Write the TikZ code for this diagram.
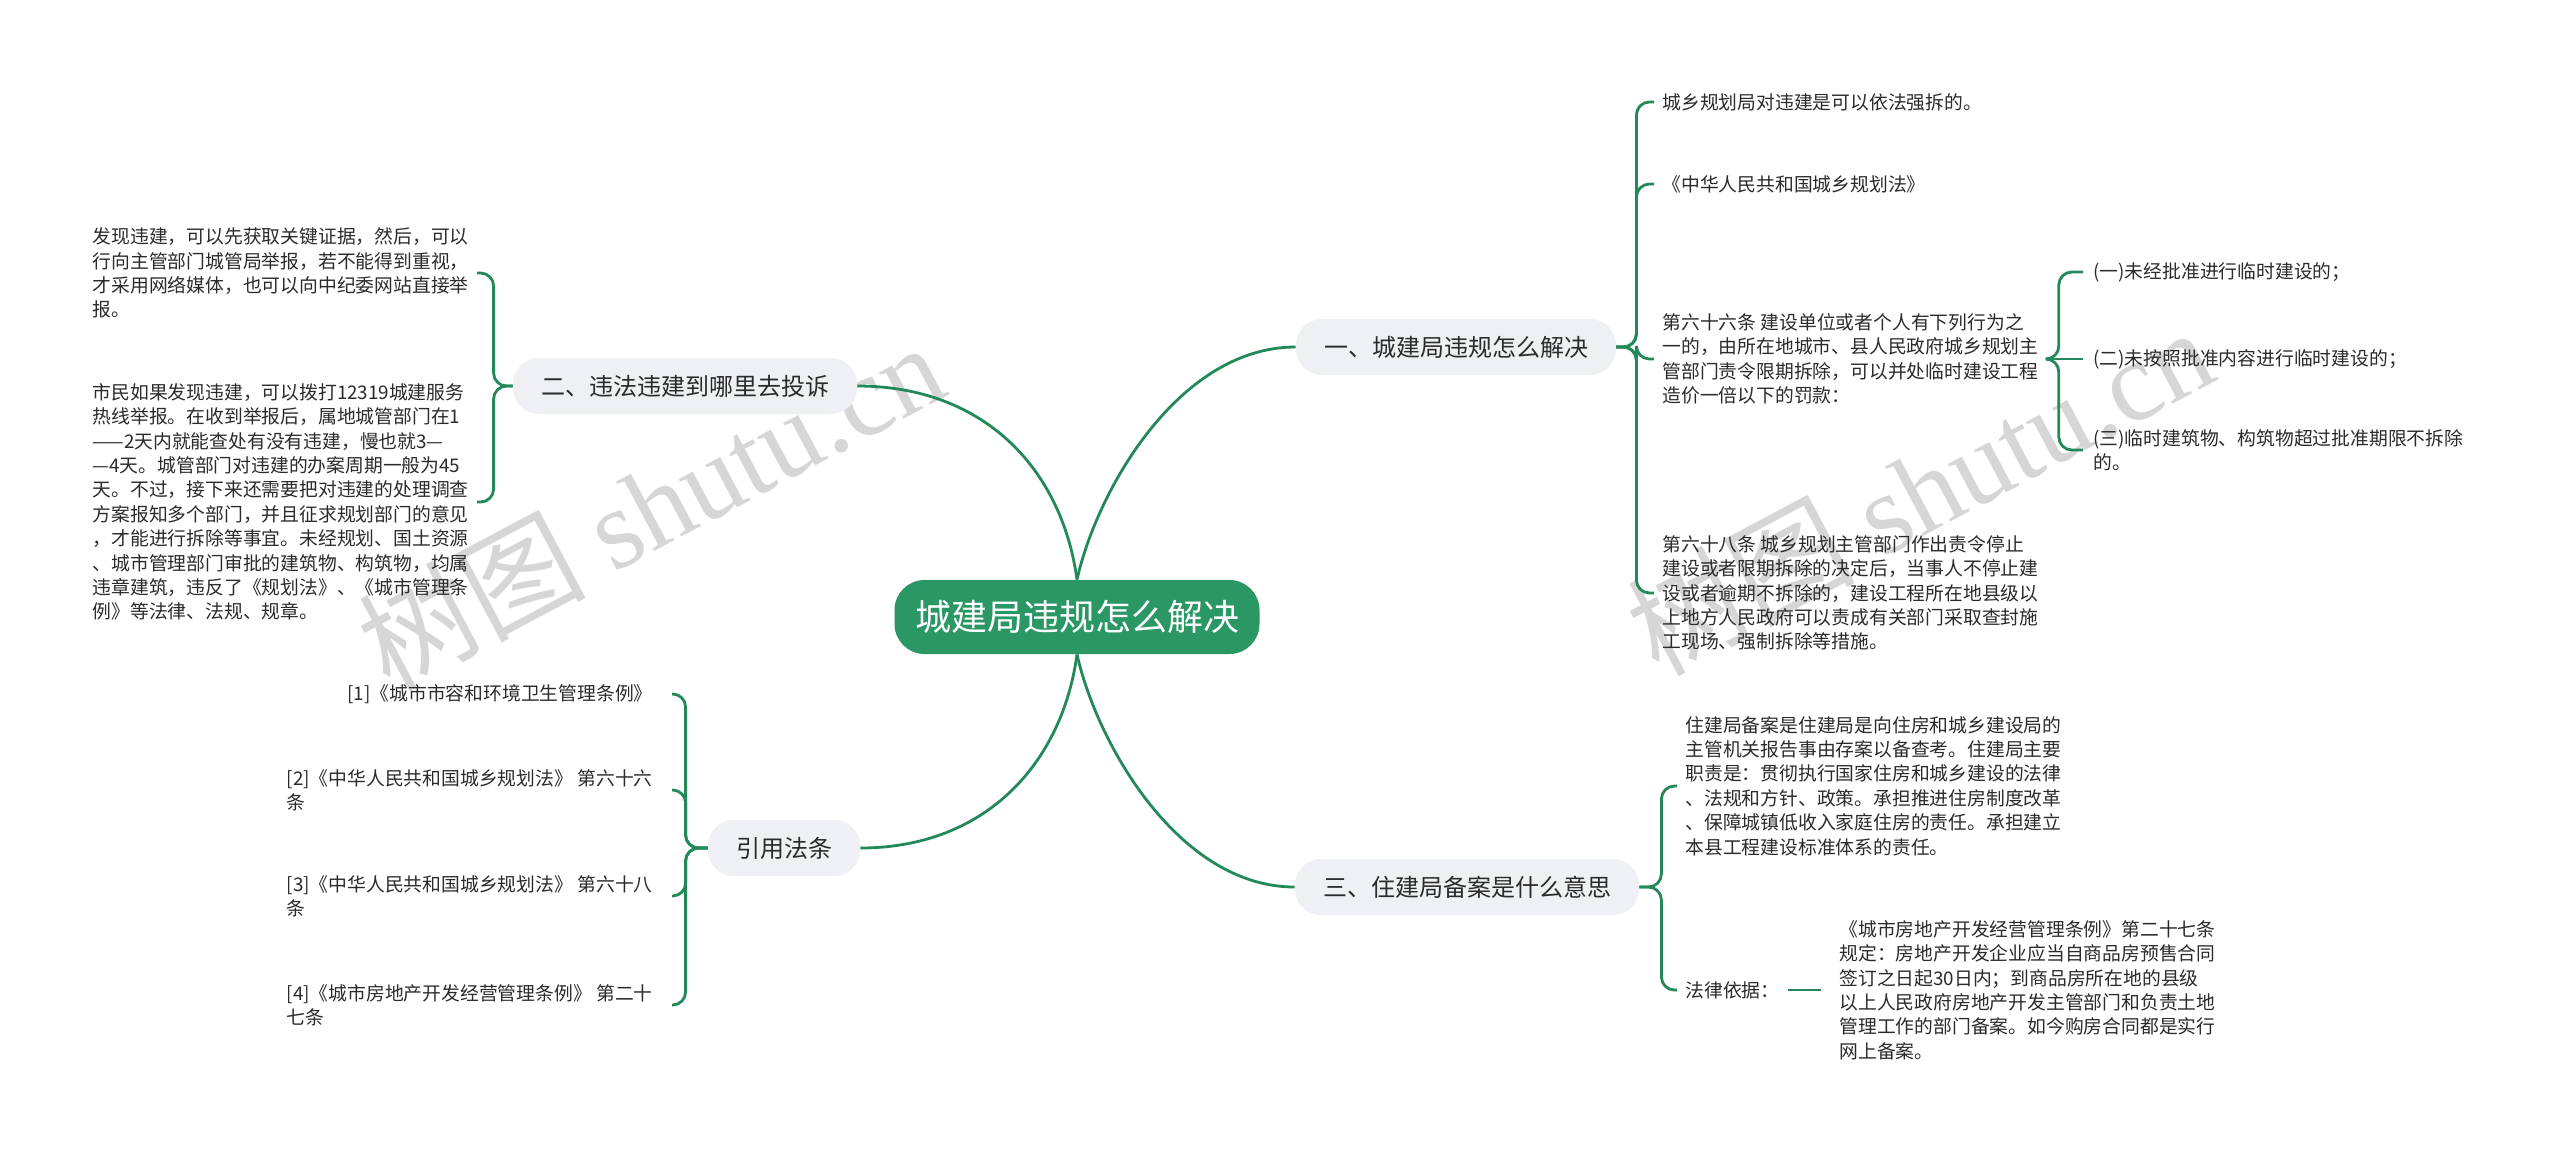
\documentclass[tikz,border=0pt]{standalone}
\usepackage{fontspec}
\setmainfont{Noto Sans CJK SC}
\newfontfamily\wmserif{Liberation Serif}
\definecolor{rootgreen}{HTML}{2A9764}
\definecolor{linkgreen}{HTML}{23895A}
\definecolor{branchgray}{HTML}{EEF0F3}
\definecolor{txt}{HTML}{2B2B2B}
\definecolor{wm}{HTML}{D6D6D6}
\begin{document}
\begin{tikzpicture}[x=0.5pt,y=-0.5pt,
  rootbox/.style={fill=rootgreen,rounded corners=15pt,text=white,minimum width=182.5pt,minimum height=37pt,inner sep=0pt,font=\fontsize{18pt}{22pt}\selectfont},
  branchbox/.style={fill=branchgray,rounded corners=13pt,text=txt,minimum height=28pt,inner xsep=14pt,inner ysep=0pt,font=\fontsize{12pt}{14pt}\selectfont},
  leaf/.style={text=txt,align=left,inner xsep=4pt,inner ysep=2pt,font=\fontsize{9.4pt}{12.2pt}\selectfont},
  link/.style={draw=linkgreen,line width=1.4pt,rounded corners=6.5pt},
  curvelink/.style={draw=linkgreen,line width=1.4pt},
  watermark/.style={text=wm,rotate=28,inner sep=0pt,font=\fontsize{57pt}{60pt}\selectfont}
]
\fill[white] (0,0) rectangle (2560,1152);
\useasboundingbox (0,0) rectangle (2560,1152);

% watermarks
\node[watermark] (wm1) at (650,505) {树图 {\wmserif shutu.cn}};
\node[watermark] (wm2) at (1919,490) {树图 {\wmserif shutu.cn}};

% root and branches
\node[rootbox] (root) at (1077,617) {城建局违规怎么解决};
\node[branchbox] (b1) at (1456,347) {一、城建局违规怎么解决};
\node[branchbox] (b2) at (685,386) {二、违法违建到哪里去投诉};
\node[branchbox] (b3) at (784,848) {引用法条};
\node[branchbox] (b4) at (1467,887) {三、住建局备案是什么意思};

\draw[curvelink] (root.north) .. controls (1097,490) and (1179,347) .. (b1.west);
\draw[curvelink] (root.north) .. controls (1062,470) and (985,386) .. (b2.east);
\draw[curvelink] (root.south) .. controls (1062,764) and (985,848) .. (b3.east);
\draw[curvelink] (root.south) .. controls (1097,744) and (1179,887) .. (b4.west);

% branch 1 children
\node[leaf,anchor=west] (c1) at (1654,102) {城乡规划局对违建是可以依法强拆的。};
\node[leaf,anchor=west] (c2) at (1654,184) {《中华人民共和国城乡规划法》};
\node[leaf,anchor=west] (c3) at (1654,359) {第六十六条 建设单位或者个人有下列行为之\\一的，由所在地城市、县人民政府城乡规划主\\管部门责令限期拆除，可以并处临时建设工程\\造价一倍以下的罚款：};
\node[leaf,anchor=west] (c4) at (1654,593) {第六十八条 城乡规划主管部门作出责令停止\\建设或者限期拆除的决定后，当事人不停止建\\设或者逾期不拆除的，建设工程所在地县级以\\上地方人民政府可以责成有关部门采取查封施\\工现场、强制拆除等措施。};
\foreach \c in {c1,c2,c3,c4}
  \draw[link] (b1.east) -- ++(20,0) |- (\c.west);

% sub children of c3
\node[leaf,anchor=west,inner xsep=5pt] (s1) at (2083,272) {(一)未经批准进行临时建设的；};
\node[leaf,anchor=west,inner xsep=5pt] (s2) at (2083,359) {(二)未按照批准内容进行临时建设的；};
\node[leaf,anchor=west,inner xsep=5pt] (s3) at (2083,450) {(三)临时建筑物、构筑物超过批准期限不拆除\\的。};
\draw[link] (c3.east) -- ++(12,0) |- (s1.west);
\draw[link] (c3.east) -- (s2.west);
\draw[link] (c3.east) -- ++(12,0) |- (s3.west);

% branch 2 children
\node[leaf,anchor=east] (e1) at (477,273) {发现违建，可以先获取关键证据，然后，可以\\行向主管部门城管局举报，若不能得到重视，\\才采用网络媒体，也可以向中纪委网站直接举\\报。};
\node[leaf,anchor=east] (e2) at (477,502) {市民如果发现违建，可以拨打12319城建服务\\热线举报。在收到举报后，属地城管部门在1\\——2天内就能查处有没有违建，慢也就3—\\—4天。城管部门对违建的办案周期一般为45\\天。不过，接下来还需要把对违建的处理调查\\方案报知多个部门，并且征求规划部门的意见\\，才能进行拆除等事宜。未经规划、国土资源\\、城市管理部门审批的建筑物、构筑物，均属\\违章建筑，违反了《规划法》、《城市管理条\\例》等法律、法规、规章。};
\foreach \c in {e1,e2}
  \draw[link] (b2.west) -- ++(-19,0) |- (\c.east);

% branch 3 (references)
\node[leaf,anchor=east,inner xsep=9.5pt] (f1) at (672,694) {[1]《城市市容和环境卫生管理条例》};
\node[leaf,anchor=east,inner xsep=9.5pt] (f2) at (672,790) {[2]《中华人民共和国城乡规划法》 第六十六\\条};
\node[leaf,anchor=east,inner xsep=9.5pt] (f3) at (672,896) {[3]《中华人民共和国城乡规划法》 第六十八\\条};
\node[leaf,anchor=east,inner xsep=9.5pt] (f4) at (672,1005) {[4]《城市房地产开发经营管理条例》 第二十\\七条};
\foreach \c in {f1,f2,f3,f4}
  \draw[link] (b3.west) -- ++(-22,0) |- (\c.east);

% branch 4 children
\node[leaf,anchor=west] (d1) at (1677,786) {住建局备案是住建局是向住房和城乡建设局的\\主管机关报告事由存案以备查考。住建局主要\\职责是：贯彻执行国家住房和城乡建设的法律\\、法规和方针、政策。承担推进住房制度改革\\、保障城镇低收入家庭住房的责任。承担建立\\本县工程建设标准体系的责任。};
\node[leaf,anchor=west] (d2) at (1677,990) {法律依据：};
\node[leaf,anchor=west,inner xsep=9pt] (d3) at (1821,990) {《城市房地产开发经营管理条例》第二十七条\\规定：房地产开发企业应当自商品房预售合同\\签订之日起30日内；到商品房所在地的县级\\以上人民政府房地产开发主管部门和负责土地\\管理工作的部门备案。如今购房合同都是实行\\网上备案。};
\foreach \c in {d1,d2}
  \draw[link] (b4.east) -- ++(22,0) |- (\c.west);
\draw[link] (d2.east) -- (d3.west);
\end{tikzpicture}
\end{document}
